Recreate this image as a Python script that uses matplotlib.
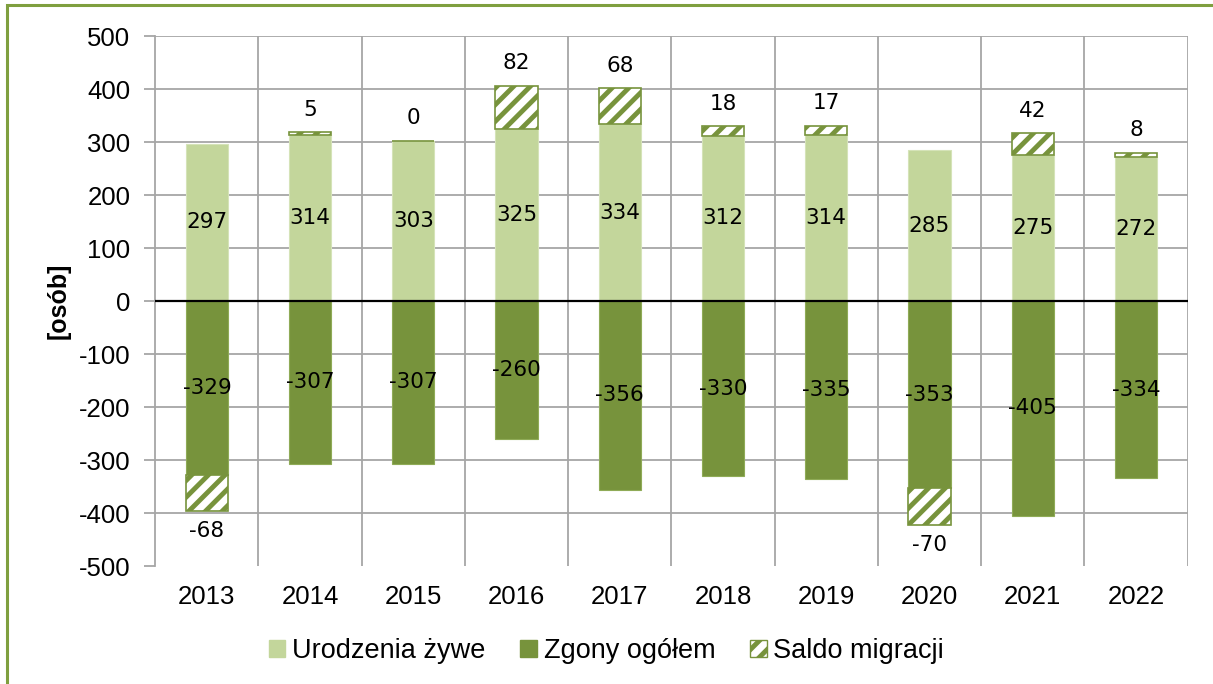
import numpy as np
import matplotlib

matplotlib.use("Agg")
import matplotlib.pyplot as plt
from matplotlib.patches import Patch, Rectangle

# data
years = ["2013", "2014", "2015", "2016", "2017", "2018", "2019", "2020", "2021", "2022"]
births = [297, 314, 303, 325, 334, 312, 314, 285, 275, 272]
deaths = [-329, -307, -307, -260, -356, -330, -335, -353, -405, -334]
migration = [-68, 5, 0, 82, 68, 18, 17, -70, 42, 8]
yticks = list(range(-500, 501, 100))

LIGHT = "#c3d69b"
DARK = "#77933c"
GRIDC = "#a6a6a6"
TICKFONT = "Liberation Sans"
LABELFONT = "DejaVu Sans"

plt.rcParams["hatch.color"] = DARK
plt.rcParams["hatch.linewidth"] = 3.5

fig = plt.figure(figsize=(12.13, 6.84), dpi=100)
ax = fig.add_axes([0.128, 0.1725, 0.851, 0.7745])

x = np.arange(len(years))
w = 0.41
ax.bar(x, births, w, color=LIGHT, edgecolor="#d5e3b8", lw=0.8, zorder=3)
ax.bar(x, deaths, w, color=DARK, edgecolor="#8fab57", lw=0.8, zorder=3)
mig_base = [b if m >= 0 else d for b, d, m in zip(births, deaths, migration)]
ax.bar(x, migration, w, bottom=mig_base, color="white", edgecolor=DARK,
       hatch="//", lw=1.2, zorder=3)

ax.axhline(0, color="black", lw=1.6, zorder=4)

for i in range(len(years)):
    ax.text(x[i], births[i] / 2, str(births[i]), ha="center", va="center",
            fontsize=15.5, family=LABELFONT, zorder=5)
    ax.text(x[i], deaths[i] / 2, str(deaths[i]), ha="center", va="center",
            fontsize=15.5, family=LABELFONT, zorder=5)
    if migration[i] >= 0:
        top = births[i] + migration[i]
        ax.annotate(str(migration[i]), (x[i], top), xytext=(0, 9),
                    textcoords="offset points", ha="center", va="bottom",
                    fontsize=15.5, family=LABELFONT)
    else:
        bot = deaths[i] + migration[i]
        ax.annotate(str(migration[i]), (x[i], bot), xytext=(0, -7),
                    textcoords="offset points", ha="center", va="top",
                    fontsize=15.5, family=LABELFONT)

ax.set_xlim(-0.5, len(years) - 0.5)
ax.set_ylim(-500, 500)
ax.set_yticks(yticks)
ax.set_yticklabels([str(v) for v in yticks], family=TICKFONT, fontsize=18.5)
ax.set_xticks(x)
ax.set_xticklabels(years, family=TICKFONT, fontsize=18.5)

# grid: horizontal at value ticks, vertical at category boundaries
for v in yticks[1:]:
    ax.axhline(v, color=GRIDC, lw=1.3, zorder=1)
for b in np.arange(0.5, len(years), 1.0):
    ax.axvline(b, color=GRIDC, lw=1.3, zorder=1)

for side in ("top", "right", "bottom"):
    ax.spines[side].set_visible(False)
ax.spines["left"].set_color(GRIDC)
ax.spines["left"].set_linewidth(1.3)
ax.tick_params(axis="y", length=8, color=GRIDC, width=1.3, pad=10)
ax.tick_params(axis="x", length=0, pad=14)

ax.set_ylabel("[osób]", family=TICKFONT, fontsize=18, fontweight="bold", labelpad=6)

handles = [
    Patch(facecolor=LIGHT, edgecolor=LIGHT, label="Urodzenia żywe"),
    Patch(facecolor=DARK, edgecolor=DARK, label="Zgony ogółem"),
    Patch(facecolor="white", edgecolor=DARK, hatch="//", label="Saldo migracji"),
]
fig.legend(handles=handles, loc="center", bbox_to_anchor=(0.5, 0.048), ncol=3,
           frameon=False, prop={"family": TICKFONT, "size": 19.5},
           handlelength=0.6, handleheight=0.6, handletextpad=0.25, columnspacing=1.3)

# green frame around the figure
fig.patches.append(Rectangle((0.006, -0.05), 1.2, 1.042, transform=fig.transFigure,
                             fill=False, edgecolor="#7f9f3f", lw=2.2))

fig.savefig("out.png", dpi=100, facecolor="white")
